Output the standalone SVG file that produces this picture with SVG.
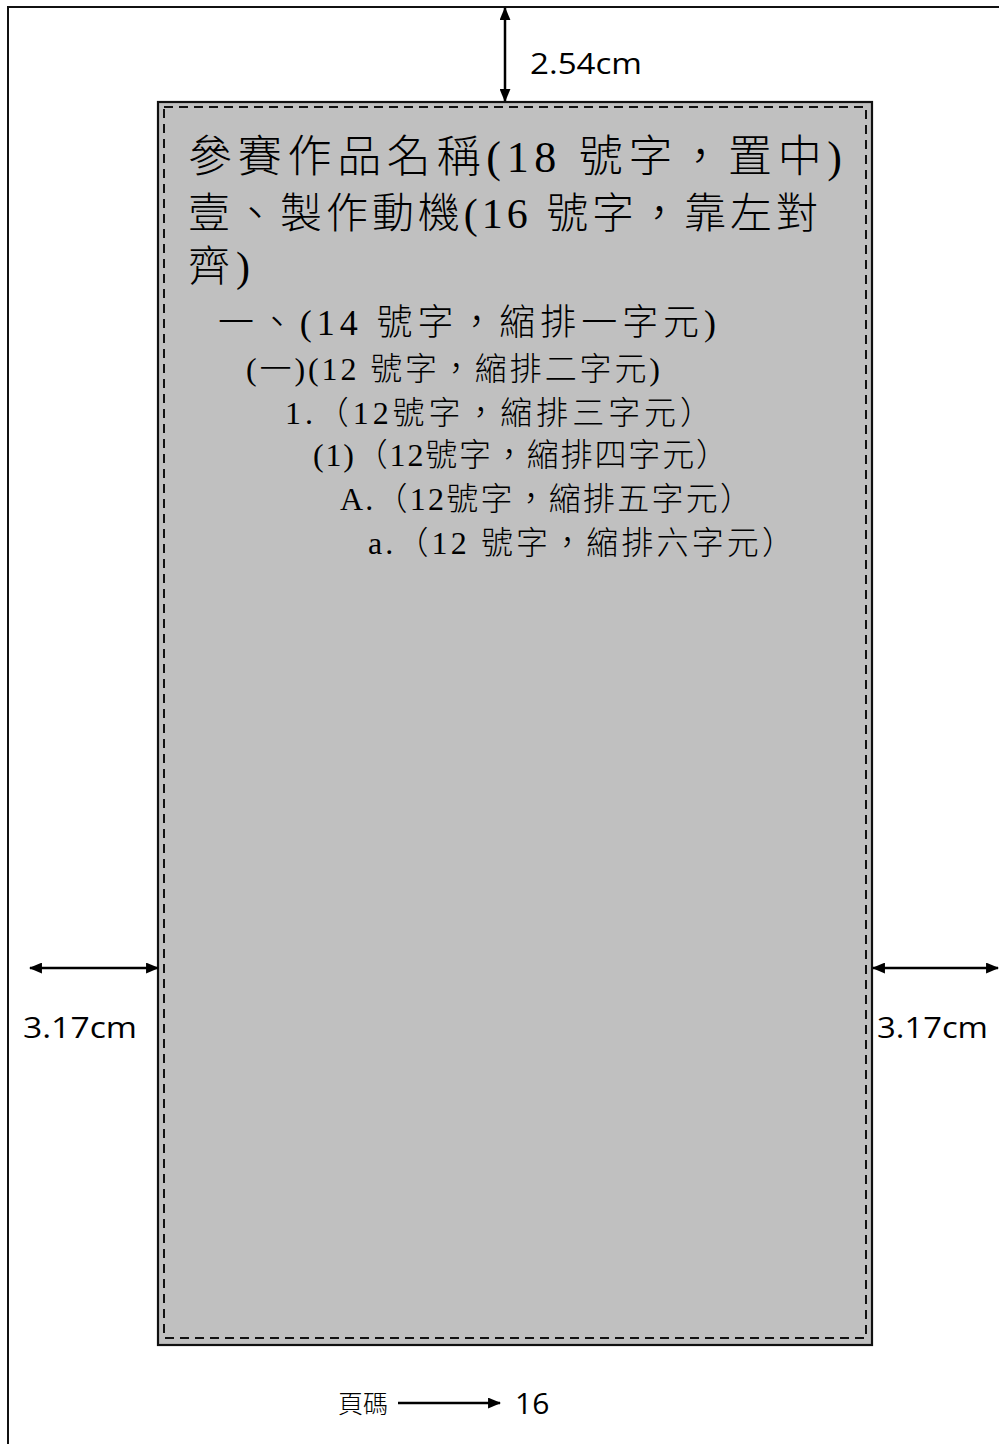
<svg xmlns="http://www.w3.org/2000/svg" width="999" height="1444" viewBox="0 0 999 1444">
<style>
.page{stroke:#111;stroke-width:2;fill:none}
.box{fill:#c0c0c0;stroke:#111;stroke-width:2.2}
.dash{fill:none;stroke:#111;stroke-width:2;stroke-dasharray:9 6}
.dim{stroke:#000;stroke-width:2.5;fill:none}
.lbl{font-family:"Open Sans","Liberation Sans",sans-serif;font-size:30px;fill:#000}
.t{font-family:"Liberation Serif","Noto Sans CJK TC",serif;font-weight:300;fill:#000}
.pg{font-family:"Noto Sans CJK TC","Liberation Sans",sans-serif;font-size:25px;font-weight:300;fill:#000}
</style>
<defs>
<marker id="ah" viewBox="0 0 12 10" refX="11" refY="5" markerUnits="userSpaceOnUse" markerWidth="13" markerHeight="11" orient="auto-start-reverse">
<path d="M0,0 L12,5 L0,10 z" fill="#000"/>
</marker>
</defs>
<g id="page">
<path class="page" d="M8,1444 L8,7 L999,7"/>
</g>
<g id="textarea">
<rect class="box" x="158" y="102" width="714" height="1243"/>
<rect class="dash" x="164" y="107" width="702" height="1231"/>
</g>
<g id="content">
<text class="t" x="188" y="172" font-size="44" textLength="654" lengthAdjust="spacing">參賽作品名稱(18 號字，置中)</text>
<text class="t" x="188" y="228" font-size="42" textLength="630" lengthAdjust="spacing">壹、製作動機(16 號字，靠左對</text>
<text class="t" x="188" y="281" font-size="42" textLength="62" lengthAdjust="spacing">齊)</text>
<text class="t" x="218" y="335" font-size="36" textLength="498" lengthAdjust="spacing">一、(14 號字，縮排一字元)</text>
<text class="t" x="246" y="380" font-size="32" textLength="414" lengthAdjust="spacing">(一)(12 號字，縮排二字元)</text>
<text class="t" x="285" y="424" font-size="32" textLength="427" lengthAdjust="spacing">1.（12號字，縮排三字元）</text>
<text class="t" x="313" y="466" font-size="32" textLength="415" lengthAdjust="spacing">(1)（12號字，縮排四字元）</text>
<text class="t" x="340" y="510" font-size="32" textLength="412" lengthAdjust="spacing">A.（12號字，縮排五字元）</text>
<text class="t" x="368" y="554" font-size="32" textLength="426" lengthAdjust="spacing">a.（12 號字，縮排六字元）</text>
</g>
<g id="connectors">
<line class="dim" x1="505" y1="8" x2="505" y2="101" marker-start="url(#ah)" marker-end="url(#ah)"/>
<line class="dim" x1="30" y1="968" x2="158" y2="968" marker-start="url(#ah)" marker-end="url(#ah)"/>
<line class="dim" x1="873" y1="968" x2="998" y2="968" marker-start="url(#ah)" marker-end="url(#ah)"/>
<line class="dim" x1="398" y1="1403" x2="500" y2="1403" marker-end="url(#ah)"/>
</g>
<g id="labels">
<text class="lbl" x="530" y="74" textLength="112" lengthAdjust="spacingAndGlyphs">2.54cm</text>
<text class="lbl" x="23" y="1038" textLength="114" lengthAdjust="spacingAndGlyphs">3.17cm</text>
<text class="lbl" x="877" y="1038" textLength="111" lengthAdjust="spacingAndGlyphs">3.17cm</text>
<text class="pg" x="338" y="1413">頁碼</text>
<text class="lbl" x="515" y="1414" font-size="29">16</text>
</g>
</svg>
